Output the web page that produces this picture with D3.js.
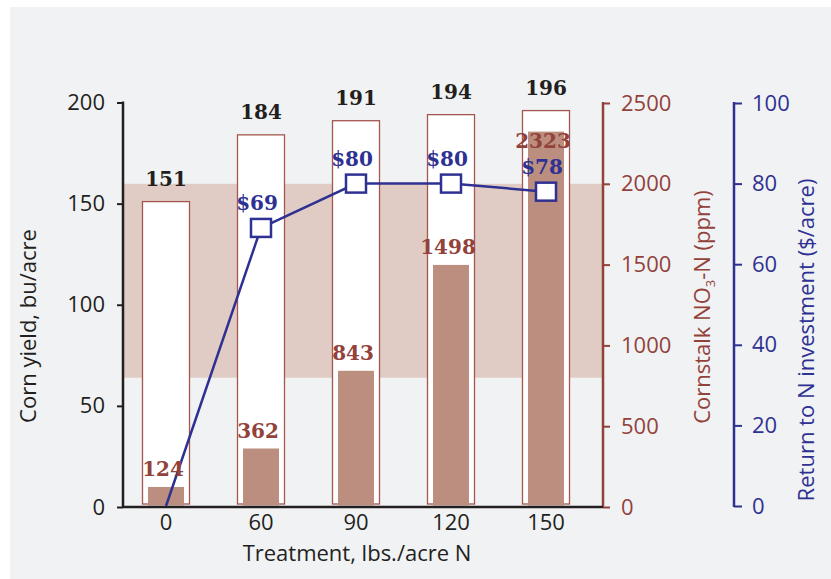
<!DOCTYPE html>
<html>
<head>
<meta charset="utf-8">
<script src="https://cdn.jsdelivr.net/npm/d3@7"></script>
<style>
  body { margin: 0; background: #fff; }
  svg { display: block; }
  .tick text { font-family: 'Open Sans', Lato, sans-serif; font-size: 22px; }
</style>
</head>
<body>
<div id="chart"></div>
<script>
// values
const treatments = ['0', '60', '90', '120', '150']
const cornYield = [151, 184, 191, 194, 196]
const stalkNitrate = [124, 362, 843, 1498, 2323]
const nReturn = [0, 69, 80, 80, 78]
const optimalRange = [800, 2000]

const yieldTicks = [0, 50, 100, 150, 200]
const nitrateTicks = [0, 500, 1000, 1500, 2000, 2500]
const returnTicks = [0, 20, 40, 60, 80, 100]

const datapoints = treatments.map((t, i) => ({
  treatment: t,
  yield: cornYield[i],
  nitrate: stalkNitrate[i],
  ret: nReturn[i]
}))

const W = 831
const H = 579
const left = 123
const right = 603
const blueX = 734

const brown = '#93423b'
const blue = '#2e3192'
const ink = '#231f20'
const sans = "'Open Sans', Lato, sans-serif"

const svg = d3
  .select('#chart')
  .append('svg')
  .attr('width', W)
  .attr('height', H)

svg
  .append('rect')
  .attr('x', 10)
  .attr('y', 7)
  .attr('width', W - 10)
  .attr('height', H - 7)
  .attr('fill', '#f1f2f4')

const xPositionScale = d3.scalePoint().domain(treatments).range([166, 546])

const yYield = d3.scaleLinear().domain([0, 200]).range([507, 102.5])
const yNitrate = d3.scaleLinear().domain([0, 2500]).range([507, 103])
const yReturn = d3.scaleLinear().domain([0, 100]).range([506, 103])

const outerW = 47
const innerW = 36

// sufficient nitrate band
svg
  .append('rect')
  .attr('x', left)
  .attr('width', right - left)
  .attr('y', yNitrate(optimalRange[1]))
  .attr('height', yNitrate(optimalRange[0]) - yNitrate(optimalRange[1]))
  .attr('fill', '#e0ccc4')

// yield bars (outline)
svg
  .selectAll('.yield-bar')
  .data(datapoints)
  .enter()
  .append('rect')
  .attr('class', 'yield-bar')
  .attr('x', d => xPositionScale(d.treatment) - outerW / 2)
  .attr('width', outerW)
  .attr('y', d => yYield(d.yield))
  .attr('height', d => yYield(0) - 3 - yYield(d.yield))
  .attr('fill', '#fff')
  .attr('stroke', '#a4574f')
  .attr('stroke-width', 1.3)

// cornstalk nitrate bars
svg
  .selectAll('.nitrate-bar')
  .data(datapoints)
  .enter()
  .append('rect')
  .attr('class', 'nitrate-bar')
  .attr('x', d => xPositionScale(d.treatment) - innerW / 2)
  .attr('width', innerW)
  .attr('y', d => yNitrate(d.nitrate))
  .attr('height', d => yNitrate(0) - 1.5 - yNitrate(d.nitrate))
  .attr('fill', '#bb8e7f')

// axes
const yAxis = d3
  .axisLeft(yYield)
  .tickValues(yieldTicks)
  .tickSize(6)
  .tickPadding(12)

svg
  .append('g')
  .attr('class', 'axis y-axis')
  .attr('transform', `translate(${left},0)`)
  .call(yAxis)

const nAxis = d3
  .axisRight(yNitrate)
  .tickValues(nitrateTicks)
  .tickFormat(d3.format('d'))
  .tickSize(7)
  .tickPadding(11)

svg
  .append('g')
  .attr('class', 'axis n-axis')
  .attr('transform', `translate(${right},0)`)
  .call(nAxis)

const rAxis = d3
  .axisRight(yReturn)
  .tickValues(returnTicks)
  .tickSize(8)
  .tickPadding(10)

svg
  .append('g')
  .attr('class', 'axis r-axis')
  .attr('transform', `translate(${blueX},0)`)
  .call(rAxis)

svg.selectAll('.axis .domain').remove()

svg
  .select('.y-axis')
  .call(g => g.selectAll('line').attr('stroke', ink).attr('stroke-width', 2))
  .call(g => g.selectAll('text').attr('fill', ink))
  .append('line')
  .attr('y1', yYield(200) - 1)
  .attr('y2', yYield(0) + 1)
  .attr('stroke', ink)
  .attr('stroke-width', 2.5)

svg
  .select('.n-axis')
  .call(g => g.selectAll('line').attr('stroke', brown).attr('stroke-width', 2))
  .call(g => g.selectAll('text').attr('fill', brown))
  .append('line')
  .attr('y1', yNitrate(2500) - 1)
  .attr('y2', yNitrate(0) + 1)
  .attr('stroke', brown)
  .attr('stroke-width', 2.5)

svg
  .select('.r-axis')
  .call(g => g.selectAll('line').attr('stroke', blue).attr('stroke-width', 2))
  .call(g => g.selectAll('text').attr('fill', blue))
  .append('line')
  .attr('y1', yReturn(100) - 1)
  .attr('y2', yReturn(0) + 1)
  .attr('stroke', blue)
  .attr('stroke-width', 2.5)

// x axis
svg
  .append('line')
  .attr('x1', left)
  .attr('x2', right)
  .attr('y1', yYield(0))
  .attr('y2', yYield(0))
  .attr('stroke', ink)
  .attr('stroke-width', 2.5)

svg
  .selectAll('.x-label')
  .data(treatments)
  .enter()
  .append('text')
  .attr('class', 'x-label')
  .attr('x', d => xPositionScale(d))
  .attr('y', 530)
  .attr('text-anchor', 'middle')
  .attr('font-family', sans)
  .attr('font-size', 22)
  .attr('fill', ink)
  .text(d => d)

// axis titles
svg
  .append('text')
  .attr('x', 357)
  .attr('y', 561)
  .attr('text-anchor', 'middle')
  .attr('font-family', sans)
  .attr('font-size', 22)
  .attr('fill', ink)
  .text('Treatment, lbs./acre N')

svg
  .append('text')
  .attr('transform', 'translate(36,326) rotate(-90)')
  .attr('text-anchor', 'middle')
  .attr('font-family', sans)
  .attr('font-size', 22)
  .attr('fill', ink)
  .text('Corn yield, bu/acre')

const nTitle = svg
  .append('text')
  .attr('transform', 'translate(710,307) rotate(-90)')
  .attr('text-anchor', 'middle')
  .attr('font-family', sans)
  .attr('font-size', 22)
  .attr('fill', brown)

nTitle.append('tspan').text('Cornstalk NO')
nTitle.append('tspan').attr('font-size', 13).attr('dy', 5).text('3')
nTitle.append('tspan').attr('dy', -5).text('-N (ppm)')

svg
  .append('text')
  .attr('transform', 'translate(814,340) rotate(-90)')
  .attr('text-anchor', 'middle')
  .attr('font-family', sans)
  .attr('font-size', 22)
  .attr('fill', blue)
  .text('Return to N investment ($/acre)')

// return line
const line = d3
  .line()
  .x(d => xPositionScale(d.treatment))
  .y(d => yReturn(d.ret))

svg
  .append('path')
  .datum(datapoints)
  .attr('d', line)
  .attr('fill', 'none')
  .attr('stroke', blue)
  .attr('stroke-width', 2.5)

const withMarker = datapoints.filter(d => d.ret > 0)

svg
  .selectAll('.marker')
  .data(withMarker)
  .enter()
  .append('rect')
  .attr('class', 'marker')
  .attr('x', d => xPositionScale(d.treatment) - 10)
  .attr('y', d => yReturn(d.ret) - 9)
  .attr('width', 20)
  .attr('height', 18)
  .attr('fill', '#fff')
  .attr('stroke', blue)
  .attr('stroke-width', 2.5)

// value labels
const labelFont = "'DejaVu Serif', serif"

svg
  .selectAll('.yield-label')
  .data(datapoints)
  .enter()
  .append('text')
  .attr('class', 'yield-label')
  .attr('x', d => xPositionScale(d.treatment))
  .attr('y', d => yYield(d.yield) - 16)
  .attr('text-anchor', 'middle')
  .attr('font-family', labelFont)
  .attr('font-weight', 'bold')
  .attr('font-size', 20)
  .attr('fill', ink)
  .text(d => d.yield)

svg
  .selectAll('.nitrate-label')
  .data(datapoints)
  .enter()
  .append('text')
  .attr('class', 'nitrate-label')
  .attr('x', d => xPositionScale(d.treatment) - 3)
  .attr('y', d => Math.max(yNitrate(d.nitrate) - 11, yYield(d.yield) + 37))
  .attr('text-anchor', 'middle')
  .attr('font-family', labelFont)
  .attr('font-weight', 'bold')
  .attr('font-size', 20)
  .attr('fill', brown)
  .text(d => d.nitrate)

svg
  .selectAll('.return-label')
  .data(withMarker)
  .enter()
  .append('text')
  .attr('class', 'return-label')
  .attr('x', d => xPositionScale(d.treatment) - 4)
  .attr('y', d => yReturn(d.ret) - 18)
  .attr('text-anchor', 'middle')
  .attr('font-family', labelFont)
  .attr('font-weight', 'bold')
  .attr('font-size', 20)
  .attr('fill', blue)
  .text(d => '$' + d.ret)
</script>
</body>
</html>
